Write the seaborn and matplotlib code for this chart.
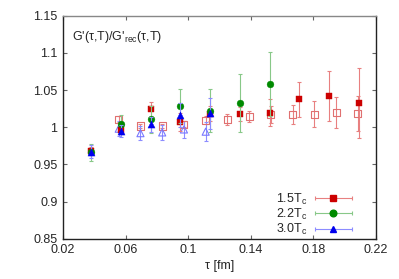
import numpy as np
import pandas as pd
import matplotlib
matplotlib.use("Agg")
import matplotlib.pyplot as plt
import seaborn as sns
from matplotlib.container import ErrorbarContainer
from matplotlib.legend_handler import HandlerErrorbar

# --- data ------------------------------------------------------------------
# coarse lattice (filled symbols)
tau_coarse = [0.038, 0.057, 0.076, 0.095, 0.114, 0.133, 0.152, 0.171, 0.190, 0.209]
ratio_15 = [0.968, 0.996, 1.024, 1.007, 1.018, 1.018, 1.0195, 1.0375, 1.0423, 1.0325]
err_15 = [0.006, 0.005, 0.010, 0.012, 0.010, 0.009, 0.018, 0.024, 0.034, 0.047]

tau_22 = [0.038, 0.057, 0.076, 0.095, 0.114, 0.133, 0.152]
ratio_22 = [0.966, 1.004, 1.0106, 1.0285, 1.022, 1.033, 1.0577]
err_22 = [0.011, 0.013, 0.018, 0.023, 0.029, 0.039, 0.043]

tau_30 = [0.038, 0.057, 0.076, 0.095, 0.114]
ratio_30 = [0.967, 0.995, 1.0038, 1.0168, 1.0186]
err_30 = [0.009, 0.008, 0.010, 0.016, 0.021]

# fine lattice (open symbols, not in the key)
tau_fine = [0.0556, 0.0695, 0.0834, 0.0973, 0.1112, 0.1251, 0.1390,
            0.1529, 0.1668, 0.1807, 0.1946, 0.2085]
ratio_15_fine = [1.0106, 1.0016, 1.0016, 1.0038, 1.0096, 1.0106, 1.0141,
                 1.0173, 1.0173, 1.0177, 1.0195, 1.0186]
err_15_fine = [0.004, 0.003, 0.003, 0.004, 0.005, 0.007, 0.0075,
               0.011, 0.013, 0.017, 0.021, 0.024]

tau_30_fine = [0.0556, 0.0695, 0.0834, 0.0973, 0.1112]
ratio_30_fine = [0.998, 0.992, 0.993, 0.997, 0.994]
err_30_fine = [0.010, 0.009, 0.010, 0.012, 0.013]

labels = ["1.5T$_{\\rm c}$", "2.2T$_{\\rm c}$", "3.0T$_{\\rm c}$"]
x_ticks = [0.02, 0.06, 0.10, 0.14, 0.18, 0.22]
x_ticklabels = ["0.02", "0.06", "0.1", "0.14", "0.18", "0.22"]
y_ticks = [0.85, 0.90, 0.95, 1.00, 1.05, 1.10, 1.15]
y_ticklabels = ["0.85", "0.9", "0.95", "1", "1.05", "1.1", "1.15"]

RED, GREEN, BLUE = "#cc0000", "#008a00", "#0000ee"
RED_BAR, GREEN_BAR, BLUE_BAR = "#e88080", "#88c888", "#8c8cff"
RED_OPEN, BLUE_OPEN = "#e07070", "#7878ff"

sns.set_style("ticks")
plt.rcParams["font.family"] = ["Liberation Sans", "DejaVu Sans"]
plt.rcParams["mathtext.fontset"] = "custom"
plt.rcParams["mathtext.rm"] = "Liberation Sans"
plt.rcParams["font.size"] = 9

fig = plt.figure(figsize=(3.99, 2.79), dpi=100)
ax = fig.add_axes([0.158, 0.1445, 0.784, 0.799])

ebkw = dict(fmt="none", elinewidth=0.8, capsize=1.6, capthick=0.8)

# open symbols (fine lattice)
ax.errorbar(tau_fine, ratio_15_fine, yerr=err_15_fine, ecolor=RED_BAR, zorder=2, **ebkw)
ax.errorbar(tau_30_fine, ratio_30_fine, yerr=err_30_fine, ecolor=BLUE_BAR, zorder=2, **ebkw)
sns.scatterplot(x=tau_fine, y=ratio_15_fine, marker="s", s=26, facecolor="none",
                edgecolor=RED_OPEN, linewidth=0.8, ax=ax, zorder=3)
sns.scatterplot(x=tau_30_fine, y=ratio_30_fine, marker="^", s=26, facecolor="none",
                edgecolor=BLUE_OPEN, linewidth=0.8, ax=ax, zorder=3)

# filled symbols (coarse lattice)
series = [
    (tau_coarse, ratio_15, err_15, "s", RED, RED_BAR, 22),
    (tau_22, ratio_22, err_22, "o", GREEN, GREEN_BAR, 24),
    (tau_30, ratio_30, err_30, "^", BLUE, BLUE_BAR, 26),
]
for i, (x, y, e, m, c, cb, s) in enumerate(series):
    ax.errorbar(x, y, yerr=e, ecolor=cb, zorder=4 + i, **ebkw)
    df = pd.DataFrame({"tau": x, "ratio": y})
    sns.scatterplot(data=df, x="tau", y="ratio", marker=m, s=s, color=c,
                    edgecolor=c, linewidth=0.3, ax=ax, zorder=5 + i)

# key: gnuplot-like horizontal error bar samples
handles = []
for (x, y, e, m, c, cb, s), lab in zip(series, labels):
    h = ax.errorbar([np.nan], [np.nan], xerr=[1.0], fmt=m, color=c, ms=4.8,
                    ecolor=cb, elinewidth=0.8, capsize=1.6, capthick=0.8, label=lab)
    handles.append(h)
ax.legend(handles=handles, loc="lower right", frameon=False, markerfirst=False,
          handlelength=3.0, handletextpad=0.6, labelspacing=0.0,
          borderaxespad=0.0, bbox_to_anchor=(0.94, -0.015),
          handler_map={ErrorbarContainer: HandlerErrorbar(xerr_size=1.5)})

ax.text(0.028, 0.905, "G'(τ,T)/G'$_{\\rm rec}$(τ,T)", transform=ax.transAxes,
        ha="left", va="center", fontsize=9)

ax.set_xlim(0.02, 0.22)
ax.set_ylim(0.85, 1.15)
ax.set_xticks(x_ticks)
ax.set_xticklabels(x_ticklabels)
ax.set_yticks(y_ticks)
ax.set_yticklabels(y_ticklabels)
ax.set_xlabel("τ [fm]", labelpad=3)
ax.set_ylabel("")
ax.tick_params(direction="in", length=3, width=0.8, color="#666666",
               top=True, right=True, labelsize=9, pad=4)
for side in ["left", "bottom", "right"]:
    ax.spines[side].set_color("#222222")
    ax.spines[side].set_linewidth(1.0)
ax.spines["top"].set_visible(True)
ax.spines["right"].set_visible(True)
ax.spines["top"].set_color("#888888")
ax.spines["top"].set_linewidth(1.0)

fig.savefig("out.png", dpi=100)
